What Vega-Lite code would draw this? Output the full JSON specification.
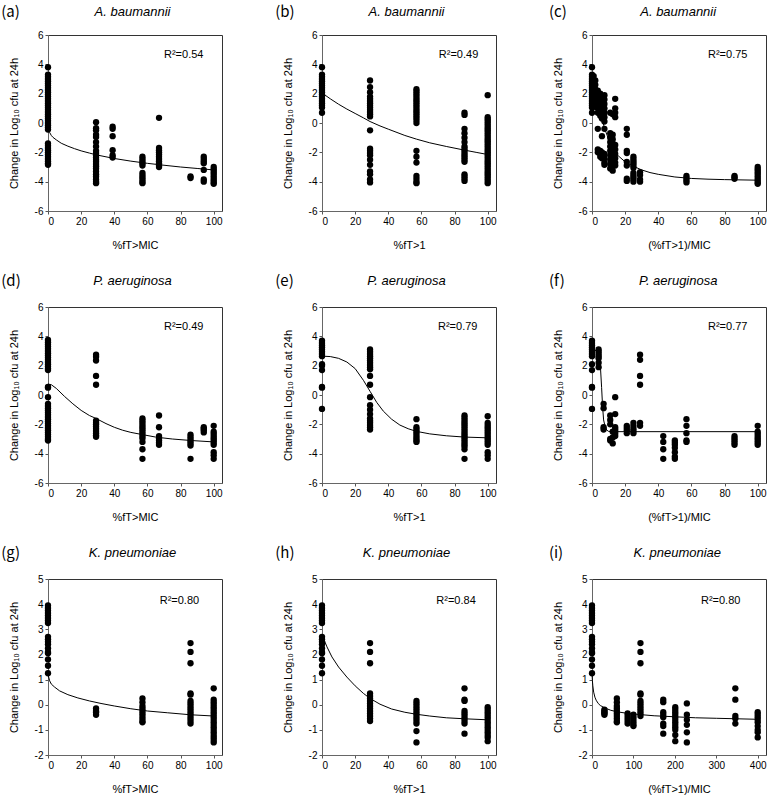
{
"$schema": "https://vega.github.io/schema/vega-lite/v6.json",
"padding": {"left": 0, "top": 4, "right": 2, "bottom": 0},
"background": "white",
"config": {
 "font": "Liberation Sans",
 "view": {"stroke": "#333", "strokeWidth": 1},
 "axis": {"domainColor": "#666", "tickColor": "#555", "tickSize": 3, "labelFontSize": 10, "labelColor": "#000", "titleFontSize": 11, "titleFontWeight": "normal", "titleColor": "#000", "grid": false, "labelPadding": 2, "labelFont": "Liberation Sans", "titleFont": "Liberation Sans"},
 "axisX": {"titlePadding": 13.5},
 "axisY": {"titlePadding": 15},
 "concat": {"spacing": 51}
},
"datasets": {
"pts": [
{"p":"a","x":0,"y":3.8},{"p":"a","x":0,"y":3.3},{"p":"a","x":0,"y":3.15},{"p":"a","x":0,"y":3.0},{"p":"a","x":0,"y":2.85},{"p":"a","x":0,"y":2.7},{"p":"a","x":0,"y":2.55},{"p":"a","x":0,"y":2.4},{"p":"a","x":0,"y":2.25},{"p":"a","x":0,"y":2.1},{"p":"a","x":0,"y":1.95},{"p":"a","x":0,"y":1.8},{"p":"a","x":0,"y":1.65},{"p":"a","x":0,"y":1.5},{"p":"a","x":0,"y":1.35},{"p":"a","x":0,"y":1.2},{"p":"a","x":0,"y":1.05},{"p":"a","x":0,"y":0.9},{"p":"a","x":0,"y":0.75},{"p":"a","x":0,"y":0.6},{"p":"a","x":0,"y":0.45},{"p":"a","x":0,"y":0.3},{"p":"a","x":0,"y":0.15},{"p":"a","x":0,"y":0},{"p":"a","x":0,"y":-0.15},{"p":"a","x":0,"y":-0.3},{"p":"a","x":0,"y":-0.45},{"p":"a","x":0,"y":-1.4},{"p":"a","x":0,"y":-1.55},{"p":"a","x":0,"y":-1.7},{"p":"a","x":0,"y":-1.85},{"p":"a","x":0,"y":-2.0},{"p":"a","x":0,"y":-2.15},{"p":"a","x":0,"y":-2.3},{"p":"a","x":0,"y":-2.45},{"p":"a","x":0,"y":-2.6},{"p":"a","x":0,"y":-2.75},{"p":"a","x":0,"y":-2.85},
{"p":"a","x":29,"y":0.05},{"p":"a","x":29,"y":-0.35},{"p":"a","x":29,"y":-0.5},{"p":"a","x":29,"y":-0.8},{"p":"a","x":29,"y":-0.95},{"p":"a","x":29,"y":-1.3},{"p":"a","x":29,"y":-1.6},{"p":"a","x":29,"y":-1.9},{"p":"a","x":29,"y":-2.05},{"p":"a","x":29,"y":-2.2},{"p":"a","x":29,"y":-2.35},{"p":"a","x":29,"y":-2.5},{"p":"a","x":29,"y":-2.65},{"p":"a","x":29,"y":-2.8},{"p":"a","x":29,"y":-2.95},{"p":"a","x":29,"y":-3.1},{"p":"a","x":29,"y":-3.3},{"p":"a","x":29,"y":-3.5},{"p":"a","x":29,"y":-3.65},{"p":"a","x":29,"y":-3.85},{"p":"a","x":29,"y":-4.0},{"p":"a","x":29,"y":-4.1},
{"p":"a","x":39,"y":-0.25},{"p":"a","x":39,"y":-0.4},{"p":"a","x":39,"y":-0.9},{"p":"a","x":39,"y":-1.85},{"p":"a","x":39,"y":-2.2},{"p":"a","x":39,"y":-2.35},
{"p":"a","x":57,"y":-2.3},{"p":"a","x":57,"y":-2.45},{"p":"a","x":57,"y":-2.6},{"p":"a","x":57,"y":-2.75},{"p":"a","x":57,"y":-2.9},{"p":"a","x":57,"y":-3.4},{"p":"a","x":57,"y":-3.55},{"p":"a","x":57,"y":-3.7},{"p":"a","x":57,"y":-3.85},{"p":"a","x":57,"y":-4.0},{"p":"a","x":57,"y":-4.1},
{"p":"a","x":67,"y":0.35},{"p":"a","x":67,"y":-1.7},{"p":"a","x":67,"y":-1.85},{"p":"a","x":67,"y":-2.0},{"p":"a","x":67,"y":-2.15},{"p":"a","x":67,"y":-2.3},{"p":"a","x":67,"y":-2.45},{"p":"a","x":67,"y":-2.6},{"p":"a","x":67,"y":-2.75},{"p":"a","x":67,"y":-2.9},{"p":"a","x":67,"y":-3.0},
{"p":"a","x":86,"y":-3.65},{"p":"a","x":86,"y":-3.75},
{"p":"a","x":94,"y":-2.3},{"p":"a","x":94,"y":-2.45},{"p":"a","x":94,"y":-2.6},{"p":"a","x":94,"y":-2.75},{"p":"a","x":94,"y":-3.2},{"p":"a","x":94,"y":-3.85},{"p":"a","x":94,"y":-4.0},
{"p":"a","x":100,"y":-3.0},{"p":"a","x":100,"y":-3.15},{"p":"a","x":100,"y":-3.3},{"p":"a","x":100,"y":-3.45},{"p":"a","x":100,"y":-3.6},{"p":"a","x":100,"y":-3.75},{"p":"a","x":100,"y":-3.9},{"p":"a","x":100,"y":-4.05},{"p":"a","x":100,"y":-4.15},

{"p":"b","x":0,"y":3.8},{"p":"b","x":0,"y":3.3},{"p":"b","x":0,"y":3.15},{"p":"b","x":0,"y":3.0},{"p":"b","x":0,"y":2.85},{"p":"b","x":0,"y":2.7},{"p":"b","x":0,"y":2.55},{"p":"b","x":0,"y":2.4},{"p":"b","x":0,"y":2.25},{"p":"b","x":0,"y":2.1},{"p":"b","x":0,"y":1.95},{"p":"b","x":0,"y":1.8},{"p":"b","x":0,"y":1.65},{"p":"b","x":0,"y":1.5},{"p":"b","x":0,"y":1.35},{"p":"b","x":0,"y":1.2},{"p":"b","x":0,"y":1.05},{"p":"b","x":0,"y":0.7},
{"p":"b","x":29,"y":2.9},{"p":"b","x":29,"y":2.45},{"p":"b","x":29,"y":2.1},{"p":"b","x":29,"y":1.8},{"p":"b","x":29,"y":1.65},{"p":"b","x":29,"y":1.5},{"p":"b","x":29,"y":1.35},{"p":"b","x":29,"y":1.2},{"p":"b","x":29,"y":1.05},{"p":"b","x":29,"y":0.9},{"p":"b","x":29,"y":0.75},{"p":"b","x":29,"y":0.6},{"p":"b","x":29,"y":0.45},{"p":"b","x":29,"y":-0.5},{"p":"b","x":29,"y":-1.75},{"p":"b","x":29,"y":-1.9},{"p":"b","x":29,"y":-2.05},{"p":"b","x":29,"y":-2.2},{"p":"b","x":29,"y":-2.5},{"p":"b","x":29,"y":-2.85},{"p":"b","x":29,"y":-3.3},{"p":"b","x":29,"y":-3.5},{"p":"b","x":29,"y":-3.85},{"p":"b","x":29,"y":-4.05},
{"p":"b","x":57,"y":2.3},{"p":"b","x":57,"y":2.15},{"p":"b","x":57,"y":2.0},{"p":"b","x":57,"y":1.85},{"p":"b","x":57,"y":1.7},{"p":"b","x":57,"y":1.55},{"p":"b","x":57,"y":1.4},{"p":"b","x":57,"y":1.25},{"p":"b","x":57,"y":1.1},{"p":"b","x":57,"y":0.95},{"p":"b","x":57,"y":0.8},{"p":"b","x":57,"y":0.65},{"p":"b","x":57,"y":0.5},{"p":"b","x":57,"y":0.35},{"p":"b","x":57,"y":0.2},{"p":"b","x":57,"y":0.0},{"p":"b","x":57,"y":-1.9},{"p":"b","x":57,"y":-2.3},{"p":"b","x":57,"y":-2.7},{"p":"b","x":57,"y":-3.6},{"p":"b","x":57,"y":-3.8},{"p":"b","x":57,"y":-4.0},{"p":"b","x":57,"y":-4.1},
{"p":"b","x":86,"y":0.7},{"p":"b","x":86,"y":0.55},{"p":"b","x":86,"y":-0.4},{"p":"b","x":86,"y":-0.7},{"p":"b","x":86,"y":-1.0},{"p":"b","x":86,"y":-1.3},{"p":"b","x":86,"y":-1.6},{"p":"b","x":86,"y":-1.75},{"p":"b","x":86,"y":-1.9},{"p":"b","x":86,"y":-2.05},{"p":"b","x":86,"y":-2.2},{"p":"b","x":86,"y":-2.35},{"p":"b","x":86,"y":-2.5},{"p":"b","x":86,"y":-2.65},{"p":"b","x":86,"y":-3.5},{"p":"b","x":86,"y":-3.65},{"p":"b","x":86,"y":-3.8},{"p":"b","x":86,"y":-3.95},
{"p":"b","x":100,"y":1.9},{"p":"b","x":100,"y":0.4},{"p":"b","x":100,"y":0.25},{"p":"b","x":100,"y":0.1},{"p":"b","x":100,"y":-0.05},{"p":"b","x":100,"y":-0.2},{"p":"b","x":100,"y":-0.35},{"p":"b","x":100,"y":-0.5},{"p":"b","x":100,"y":-0.65},{"p":"b","x":100,"y":-0.8},{"p":"b","x":100,"y":-0.95},{"p":"b","x":100,"y":-1.1},{"p":"b","x":100,"y":-1.25},{"p":"b","x":100,"y":-1.4},{"p":"b","x":100,"y":-1.55},{"p":"b","x":100,"y":-1.7},{"p":"b","x":100,"y":-1.85},{"p":"b","x":100,"y":-2.0},{"p":"b","x":100,"y":-2.15},{"p":"b","x":100,"y":-2.3},{"p":"b","x":100,"y":-2.45},{"p":"b","x":100,"y":-2.6},{"p":"b","x":100,"y":-2.75},{"p":"b","x":100,"y":-2.9},{"p":"b","x":100,"y":-3.05},{"p":"b","x":100,"y":-3.2},{"p":"b","x":100,"y":-3.35},{"p":"b","x":100,"y":-3.5},{"p":"b","x":100,"y":-3.65},{"p":"b","x":100,"y":-3.8},{"p":"b","x":100,"y":-3.95},{"p":"b","x":100,"y":-4.1},

{"p":"c","x":0,"y":3.8},{"p":"c","x":0,"y":3.3},{"p":"c","x":0,"y":3.15},{"p":"c","x":0,"y":3.0},{"p":"c","x":0,"y":2.85},{"p":"c","x":0,"y":2.7},{"p":"c","x":0,"y":2.55},{"p":"c","x":0,"y":2.4},{"p":"c","x":0,"y":2.25},{"p":"c","x":0,"y":2.1},{"p":"c","x":0,"y":1.95},{"p":"c","x":0,"y":1.8},{"p":"c","x":0,"y":1.65},{"p":"c","x":0,"y":1.5},{"p":"c","x":0,"y":1.35},{"p":"c","x":0,"y":1.2},{"p":"c","x":0,"y":1.05},{"p":"c","x":0,"y":0.7},
{"p":"c","x":1,"y":3.2},{"p":"c","x":1,"y":2.9},{"p":"c","x":1,"y":2.6},{"p":"c","x":1,"y":2.3},{"p":"c","x":1,"y":2.0},{"p":"c","x":1,"y":1.7},{"p":"c","x":1,"y":1.4},
{"p":"c","x":2,"y":2.9},{"p":"c","x":2,"y":2.6},{"p":"c","x":2,"y":2.3},{"p":"c","x":2,"y":2.0},{"p":"c","x":2,"y":1.7},{"p":"c","x":2,"y":1.4},{"p":"c","x":2,"y":1.1},
{"p":"c","x":3.5,"y":2.2},{"p":"c","x":3.5,"y":1.9},{"p":"c","x":3.5,"y":1.6},{"p":"c","x":3.5,"y":1.3},{"p":"c","x":3.5,"y":1.0},{"p":"c","x":3.5,"y":0.7},{"p":"c","x":3.5,"y":-0.4},{"p":"c","x":3.5,"y":-1.8},{"p":"c","x":3.5,"y":-2.0},
{"p":"c","x":5,"y":2.0},{"p":"c","x":5,"y":1.7},{"p":"c","x":5,"y":1.4},{"p":"c","x":5,"y":1.1},{"p":"c","x":5,"y":0.8},{"p":"c","x":5,"y":0.5},{"p":"c","x":5,"y":-1.9},{"p":"c","x":5,"y":-2.1},{"p":"c","x":5,"y":-2.3},
{"p":"c","x":6,"y":1.6},{"p":"c","x":6,"y":1.2},{"p":"c","x":6,"y":0.6},{"p":"c","x":6,"y":0.3},{"p":"c","x":6,"y":-0.9},{"p":"c","x":6,"y":-2.0},{"p":"c","x":6,"y":-2.4},
{"p":"c","x":7.5,"y":1.9},{"p":"c","x":7.5,"y":1.6},{"p":"c","x":7.5,"y":1.3},{"p":"c","x":7.5,"y":1.0},{"p":"c","x":7.5,"y":0.7},{"p":"c","x":7.5,"y":0.4},{"p":"c","x":7.5,"y":0.1},{"p":"c","x":7.5,"y":-0.4},{"p":"c","x":7.5,"y":-2.1},{"p":"c","x":7.5,"y":-2.4},{"p":"c","x":7.5,"y":-2.7},{"p":"c","x":7.5,"y":-2.85},
{"p":"c","x":11,"y":0.7},{"p":"c","x":11,"y":-0.7},{"p":"c","x":11,"y":-1.0},{"p":"c","x":11,"y":-1.3},{"p":"c","x":11,"y":-1.6},{"p":"c","x":11,"y":-1.9},{"p":"c","x":11,"y":-2.2},{"p":"c","x":11,"y":-2.5},{"p":"c","x":11,"y":-2.8},{"p":"c","x":11,"y":-3.1},
{"p":"c","x":12.5,"y":0.6},{"p":"c","x":12.5,"y":-0.8},{"p":"c","x":12.5,"y":-1.1},{"p":"c","x":12.5,"y":-1.4},{"p":"c","x":12.5,"y":-1.7},{"p":"c","x":12.5,"y":-2.0},{"p":"c","x":12.5,"y":-2.3},{"p":"c","x":12.5,"y":-2.6},{"p":"c","x":12.5,"y":-2.9},{"p":"c","x":12.5,"y":-3.25},
{"p":"c","x":14,"y":1.65},{"p":"c","x":14,"y":1.0},{"p":"c","x":14,"y":0.7},{"p":"c","x":14,"y":0.4},{"p":"c","x":14,"y":-1.5},{"p":"c","x":14,"y":-1.8},{"p":"c","x":14,"y":-2.1},{"p":"c","x":14,"y":-2.4},{"p":"c","x":14,"y":-2.7},{"p":"c","x":14,"y":-2.9},
{"p":"c","x":21,"y":-0.4},{"p":"c","x":21,"y":-0.8},{"p":"c","x":21,"y":-1.9},{"p":"c","x":21,"y":-2.05},{"p":"c","x":21,"y":-2.65},{"p":"c","x":21,"y":-2.9},{"p":"c","x":21,"y":-3.8},{"p":"c","x":21,"y":-3.95},
{"p":"c","x":25,"y":-2.3},{"p":"c","x":25,"y":-2.45},{"p":"c","x":25,"y":-2.6},{"p":"c","x":25,"y":-2.75},{"p":"c","x":25,"y":-2.9},{"p":"c","x":25,"y":-3.05},{"p":"c","x":25,"y":-3.4},{"p":"c","x":25,"y":-3.55},{"p":"c","x":25,"y":-3.7},{"p":"c","x":25,"y":-3.85},{"p":"c","x":25,"y":-4.0},
{"p":"c","x":29,"y":-3.35},{"p":"c","x":29,"y":-3.55},{"p":"c","x":29,"y":-3.85},{"p":"c","x":29,"y":-4.0},
{"p":"c","x":57,"y":-3.6},{"p":"c","x":57,"y":-3.75},{"p":"c","x":57,"y":-3.9},{"p":"c","x":57,"y":-4.05},
{"p":"c","x":86,"y":-3.6},{"p":"c","x":86,"y":-3.7},{"p":"c","x":86,"y":-3.8},
{"p":"c","x":100,"y":-3.0},{"p":"c","x":100,"y":-3.15},{"p":"c","x":100,"y":-3.3},{"p":"c","x":100,"y":-3.45},{"p":"c","x":100,"y":-3.6},{"p":"c","x":100,"y":-3.75},{"p":"c","x":100,"y":-3.9},{"p":"c","x":100,"y":-4.05},{"p":"c","x":100,"y":-4.15},

{"p":"d","x":0,"y":3.75},{"p":"d","x":0,"y":3.6},{"p":"d","x":0,"y":3.45},{"p":"d","x":0,"y":3.3},{"p":"d","x":0,"y":3.15},{"p":"d","x":0,"y":3.0},{"p":"d","x":0,"y":2.85},{"p":"d","x":0,"y":2.7},{"p":"d","x":0,"y":2.55},{"p":"d","x":0,"y":2.4},{"p":"d","x":0,"y":2.25},{"p":"d","x":0,"y":2.1},{"p":"d","x":0,"y":1.95},{"p":"d","x":0,"y":1.8},{"p":"d","x":0,"y":1.7},{"p":"d","x":0,"y":0.55},{"p":"d","x":0,"y":0.5},{"p":"d","x":0,"y":-0.15},{"p":"d","x":0,"y":-0.6},{"p":"d","x":0,"y":-0.75},{"p":"d","x":0,"y":-0.9},{"p":"d","x":0,"y":-1.05},{"p":"d","x":0,"y":-1.2},{"p":"d","x":0,"y":-1.35},{"p":"d","x":0,"y":-1.5},{"p":"d","x":0,"y":-1.65},{"p":"d","x":0,"y":-1.8},{"p":"d","x":0,"y":-1.95},{"p":"d","x":0,"y":-2.1},{"p":"d","x":0,"y":-2.25},{"p":"d","x":0,"y":-2.4},{"p":"d","x":0,"y":-2.55},{"p":"d","x":0,"y":-2.7},{"p":"d","x":0,"y":-2.85},{"p":"d","x":0,"y":-3.0},{"p":"d","x":0,"y":-3.1},
{"p":"d","x":29,"y":2.75},{"p":"d","x":29,"y":2.6},{"p":"d","x":29,"y":2.35},{"p":"d","x":29,"y":1.3},{"p":"d","x":29,"y":0.7},{"p":"d","x":29,"y":-1.75},{"p":"d","x":29,"y":-1.9},{"p":"d","x":29,"y":-2.0},{"p":"d","x":29,"y":-2.15},{"p":"d","x":29,"y":-2.3},{"p":"d","x":29,"y":-2.45},{"p":"d","x":29,"y":-2.6},{"p":"d","x":29,"y":-2.75},{"p":"d","x":29,"y":-2.85},
{"p":"d","x":57,"y":-1.6},{"p":"d","x":57,"y":-1.75},{"p":"d","x":57,"y":-1.9},{"p":"d","x":57,"y":-2.05},{"p":"d","x":57,"y":-2.2},{"p":"d","x":57,"y":-2.35},{"p":"d","x":57,"y":-2.5},{"p":"d","x":57,"y":-2.65},{"p":"d","x":57,"y":-2.8},{"p":"d","x":57,"y":-2.95},{"p":"d","x":57,"y":-3.2},{"p":"d","x":57,"y":-3.7},{"p":"d","x":57,"y":-4.35},
{"p":"d","x":67,"y":-1.4},{"p":"d","x":67,"y":-2.2},{"p":"d","x":67,"y":-2.8},{"p":"d","x":67,"y":-2.95},{"p":"d","x":67,"y":-3.1},{"p":"d","x":67,"y":-3.25},{"p":"d","x":67,"y":-3.4},
{"p":"d","x":86,"y":-2.7},{"p":"d","x":86,"y":-2.85},{"p":"d","x":86,"y":-3.0},{"p":"d","x":86,"y":-3.15},{"p":"d","x":86,"y":-3.3},{"p":"d","x":86,"y":-3.45},{"p":"d","x":86,"y":-4.35},
{"p":"d","x":94,"y":-2.2},{"p":"d","x":94,"y":-2.3},{"p":"d","x":94,"y":-2.4},{"p":"d","x":94,"y":-2.55},
{"p":"d","x":100,"y":-2.1},{"p":"d","x":100,"y":-2.5},{"p":"d","x":100,"y":-2.65},{"p":"d","x":100,"y":-2.8},{"p":"d","x":100,"y":-2.95},{"p":"d","x":100,"y":-3.1},{"p":"d","x":100,"y":-3.25},{"p":"d","x":100,"y":-3.4},{"p":"d","x":100,"y":-3.9},{"p":"d","x":100,"y":-4.1},{"p":"d","x":100,"y":-4.35},

{"p":"e","x":0,"y":3.7},{"p":"e","x":0,"y":3.55},{"p":"e","x":0,"y":3.4},{"p":"e","x":0,"y":3.25},{"p":"e","x":0,"y":3.1},{"p":"e","x":0,"y":2.95},{"p":"e","x":0,"y":2.8},{"p":"e","x":0,"y":2.65},{"p":"e","x":0,"y":2.1},{"p":"e","x":0,"y":2.0},{"p":"e","x":0,"y":1.7},{"p":"e","x":0,"y":0.55},{"p":"e","x":0,"y":0.5},{"p":"e","x":0,"y":-0.95},
{"p":"e","x":29,"y":3.1},{"p":"e","x":29,"y":2.95},{"p":"e","x":29,"y":2.8},{"p":"e","x":29,"y":2.65},{"p":"e","x":29,"y":2.5},{"p":"e","x":29,"y":2.35},{"p":"e","x":29,"y":2.2},{"p":"e","x":29,"y":2.05},{"p":"e","x":29,"y":1.9},{"p":"e","x":29,"y":1.75},{"p":"e","x":29,"y":1.3},{"p":"e","x":29,"y":0.7},{"p":"e","x":29,"y":-0.15},{"p":"e","x":29,"y":-0.7},{"p":"e","x":29,"y":-1.0},{"p":"e","x":29,"y":-1.3},{"p":"e","x":29,"y":-1.6},{"p":"e","x":29,"y":-1.75},{"p":"e","x":29,"y":-1.9},{"p":"e","x":29,"y":-2.05},{"p":"e","x":29,"y":-2.2},{"p":"e","x":29,"y":-2.35},
{"p":"e","x":57,"y":-1.65},{"p":"e","x":57,"y":-2.2},{"p":"e","x":57,"y":-2.35},{"p":"e","x":57,"y":-2.5},{"p":"e","x":57,"y":-2.65},{"p":"e","x":57,"y":-2.8},{"p":"e","x":57,"y":-2.95},{"p":"e","x":57,"y":-3.1},{"p":"e","x":57,"y":-3.2},
{"p":"e","x":86,"y":-1.4},{"p":"e","x":86,"y":-1.55},{"p":"e","x":86,"y":-1.7},{"p":"e","x":86,"y":-1.85},{"p":"e","x":86,"y":-2.0},{"p":"e","x":86,"y":-2.15},{"p":"e","x":86,"y":-2.3},{"p":"e","x":86,"y":-2.45},{"p":"e","x":86,"y":-2.6},{"p":"e","x":86,"y":-2.75},{"p":"e","x":86,"y":-2.9},{"p":"e","x":86,"y":-3.05},{"p":"e","x":86,"y":-3.2},{"p":"e","x":86,"y":-3.35},{"p":"e","x":86,"y":-3.5},{"p":"e","x":86,"y":-3.7},{"p":"e","x":86,"y":-4.35},
{"p":"e","x":100,"y":-1.45},{"p":"e","x":100,"y":-1.9},{"p":"e","x":100,"y":-2.05},{"p":"e","x":100,"y":-2.2},{"p":"e","x":100,"y":-2.35},{"p":"e","x":100,"y":-2.5},{"p":"e","x":100,"y":-2.65},{"p":"e","x":100,"y":-2.8},{"p":"e","x":100,"y":-2.95},{"p":"e","x":100,"y":-3.1},{"p":"e","x":100,"y":-3.25},{"p":"e","x":100,"y":-3.4},{"p":"e","x":100,"y":-3.9},{"p":"e","x":100,"y":-4.1},{"p":"e","x":100,"y":-4.35},

{"p":"f","x":0,"y":3.7},{"p":"f","x":0,"y":3.55},{"p":"f","x":0,"y":3.4},{"p":"f","x":0,"y":3.25},{"p":"f","x":0,"y":3.1},{"p":"f","x":0,"y":2.95},{"p":"f","x":0,"y":2.8},{"p":"f","x":0,"y":2.65},{"p":"f","x":0,"y":2.1},{"p":"f","x":0,"y":1.7},{"p":"f","x":0,"y":0.55},{"p":"f","x":0,"y":0.5},{"p":"f","x":0,"y":-0.95},
{"p":"f","x":4,"y":3.1},{"p":"f","x":4,"y":2.95},{"p":"f","x":4,"y":2.8},{"p":"f","x":4,"y":2.65},{"p":"f","x":4,"y":2.5},{"p":"f","x":4,"y":2.2},{"p":"f","x":4,"y":1.9},
{"p":"f","x":7,"y":-0.6},{"p":"f","x":7,"y":-0.9},{"p":"f","x":7,"y":-2.2},{"p":"f","x":7,"y":-2.35},
{"p":"f","x":11,"y":-1.4},{"p":"f","x":11,"y":-1.7},{"p":"f","x":11,"y":-2.0},{"p":"f","x":11,"y":-3.0},{"p":"f","x":11,"y":-3.1},
{"p":"f","x":12.5,"y":-2.5},{"p":"f","x":12.5,"y":-2.9},{"p":"f","x":12.5,"y":-3.3},
{"p":"f","x":14,"y":-0.15},{"p":"f","x":14,"y":-1.3},{"p":"f","x":14,"y":-2.2},{"p":"f","x":14,"y":-2.35},{"p":"f","x":14,"y":-2.5},{"p":"f","x":14,"y":-2.65},{"p":"f","x":14,"y":-2.8},
{"p":"f","x":21,"y":-2.1},{"p":"f","x":21,"y":-2.25},{"p":"f","x":21,"y":-2.4},{"p":"f","x":21,"y":-2.6},
{"p":"f","x":25,"y":-1.9},{"p":"f","x":25,"y":-2.1},{"p":"f","x":25,"y":-2.3},{"p":"f","x":25,"y":-2.45},{"p":"f","x":25,"y":-2.6},
{"p":"f","x":29,"y":2.75},{"p":"f","x":29,"y":2.4},{"p":"f","x":29,"y":1.3},{"p":"f","x":29,"y":0.7},{"p":"f","x":29,"y":-1.9},{"p":"f","x":29,"y":-2.1},
{"p":"f","x":43,"y":-2.8},{"p":"f","x":43,"y":-3.2},{"p":"f","x":43,"y":-3.7},{"p":"f","x":43,"y":-4.35},
{"p":"f","x":50,"y":-3.1},{"p":"f","x":50,"y":-3.25},{"p":"f","x":50,"y":-3.4},{"p":"f","x":50,"y":-3.6},{"p":"f","x":50,"y":-3.9},{"p":"f","x":50,"y":-4.2},{"p":"f","x":50,"y":-4.35},
{"p":"f","x":57,"y":-1.65},{"p":"f","x":57,"y":-2.1},{"p":"f","x":57,"y":-2.6},{"p":"f","x":57,"y":-3.1},{"p":"f","x":57,"y":-3.2},
{"p":"f","x":86,"y":-2.8},{"p":"f","x":86,"y":-2.95},{"p":"f","x":86,"y":-3.1},{"p":"f","x":86,"y":-3.25},{"p":"f","x":86,"y":-3.4},
{"p":"f","x":100,"y":-2.1},{"p":"f","x":100,"y":-2.5},{"p":"f","x":100,"y":-2.65},{"p":"f","x":100,"y":-2.8},{"p":"f","x":100,"y":-2.95},{"p":"f","x":100,"y":-3.1},{"p":"f","x":100,"y":-3.25},{"p":"f","x":100,"y":-3.4},

{"p":"g","x":0,"y":3.95},{"p":"g","x":0,"y":3.85},{"p":"g","x":0,"y":3.75},{"p":"g","x":0,"y":3.65},{"p":"g","x":0,"y":3.55},{"p":"g","x":0,"y":3.45},{"p":"g","x":0,"y":3.35},{"p":"g","x":0,"y":3.25},{"p":"g","x":0,"y":2.7},{"p":"g","x":0,"y":2.6},{"p":"g","x":0,"y":2.5},{"p":"g","x":0,"y":2.4},{"p":"g","x":0,"y":2.25},{"p":"g","x":0,"y":2.1},{"p":"g","x":0,"y":2.05},{"p":"g","x":0,"y":1.8},{"p":"g","x":0,"y":1.55},{"p":"g","x":0,"y":1.25},
{"p":"g","x":29,"y":-0.15},{"p":"g","x":29,"y":-0.25},{"p":"g","x":29,"y":-0.3},{"p":"g","x":29,"y":-0.4},
{"p":"g","x":57,"y":0.25},{"p":"g","x":57,"y":0.1},{"p":"g","x":57,"y":-0.05},{"p":"g","x":57,"y":-0.15},{"p":"g","x":57,"y":-0.25},{"p":"g","x":57,"y":-0.35},{"p":"g","x":57,"y":-0.45},{"p":"g","x":57,"y":-0.55},{"p":"g","x":57,"y":-0.65},{"p":"g","x":57,"y":-0.7},
{"p":"g","x":86,"y":2.45},{"p":"g","x":86,"y":2.1},{"p":"g","x":86,"y":1.65},{"p":"g","x":86,"y":0.45},{"p":"g","x":86,"y":0.4},{"p":"g","x":86,"y":0.15},{"p":"g","x":86,"y":0.05},{"p":"g","x":86,"y":-0.05},{"p":"g","x":86,"y":-0.15},{"p":"g","x":86,"y":-0.25},{"p":"g","x":86,"y":-0.35},{"p":"g","x":86,"y":-0.45},{"p":"g","x":86,"y":-0.55},{"p":"g","x":86,"y":-0.65},{"p":"g","x":86,"y":-0.75},
{"p":"g","x":100,"y":0.65},{"p":"g","x":100,"y":0.2},{"p":"g","x":100,"y":0.1},{"p":"g","x":100,"y":0.0},{"p":"g","x":100,"y":-0.1},{"p":"g","x":100,"y":-0.2},{"p":"g","x":100,"y":-0.3},{"p":"g","x":100,"y":-0.4},{"p":"g","x":100,"y":-0.5},{"p":"g","x":100,"y":-0.6},{"p":"g","x":100,"y":-0.7},{"p":"g","x":100,"y":-0.8},{"p":"g","x":100,"y":-0.9},{"p":"g","x":100,"y":-1.0},{"p":"g","x":100,"y":-1.1},{"p":"g","x":100,"y":-1.2},{"p":"g","x":100,"y":-1.3},{"p":"g","x":100,"y":-1.4},{"p":"g","x":100,"y":-1.5},

{"p":"h","x":0,"y":3.95},{"p":"h","x":0,"y":3.85},{"p":"h","x":0,"y":3.75},{"p":"h","x":0,"y":3.65},{"p":"h","x":0,"y":3.55},{"p":"h","x":0,"y":3.45},{"p":"h","x":0,"y":3.35},{"p":"h","x":0,"y":3.25},{"p":"h","x":0,"y":2.7},{"p":"h","x":0,"y":2.6},{"p":"h","x":0,"y":2.5},{"p":"h","x":0,"y":2.4},{"p":"h","x":0,"y":2.25},{"p":"h","x":0,"y":2.1},{"p":"h","x":0,"y":2.05},{"p":"h","x":0,"y":1.8},{"p":"h","x":0,"y":1.55},{"p":"h","x":0,"y":1.25},
{"p":"h","x":29,"y":2.45},{"p":"h","x":29,"y":2.1},{"p":"h","x":29,"y":1.65},{"p":"h","x":29,"y":0.45},{"p":"h","x":29,"y":0.35},{"p":"h","x":29,"y":0.25},{"p":"h","x":29,"y":0.15},{"p":"h","x":29,"y":0.05},{"p":"h","x":29,"y":-0.05},{"p":"h","x":29,"y":-0.15},{"p":"h","x":29,"y":-0.25},{"p":"h","x":29,"y":-0.35},{"p":"h","x":29,"y":-0.45},{"p":"h","x":29,"y":-0.55},{"p":"h","x":29,"y":-0.65},
{"p":"h","x":57,"y":0.15},{"p":"h","x":57,"y":0.05},{"p":"h","x":57,"y":-0.05},{"p":"h","x":57,"y":-0.15},{"p":"h","x":57,"y":-0.25},{"p":"h","x":57,"y":-0.35},{"p":"h","x":57,"y":-0.45},{"p":"h","x":57,"y":-0.55},{"p":"h","x":57,"y":-0.65},{"p":"h","x":57,"y":-0.75},{"p":"h","x":57,"y":-1.05},{"p":"h","x":57,"y":-1.5},
{"p":"h","x":86,"y":0.65},{"p":"h","x":86,"y":0.2},{"p":"h","x":86,"y":0.15},{"p":"h","x":86,"y":-0.25},{"p":"h","x":86,"y":-0.35},{"p":"h","x":86,"y":-0.45},{"p":"h","x":86,"y":-0.55},{"p":"h","x":86,"y":-0.65},{"p":"h","x":86,"y":-0.75},{"p":"h","x":86,"y":-1.15},
{"p":"h","x":100,"y":-0.1},{"p":"h","x":100,"y":-0.2},{"p":"h","x":100,"y":-0.3},{"p":"h","x":100,"y":-0.4},{"p":"h","x":100,"y":-0.5},{"p":"h","x":100,"y":-0.6},{"p":"h","x":100,"y":-0.7},{"p":"h","x":100,"y":-0.8},{"p":"h","x":100,"y":-0.9},{"p":"h","x":100,"y":-1.0},{"p":"h","x":100,"y":-1.1},{"p":"h","x":100,"y":-1.2},{"p":"h","x":100,"y":-1.3},{"p":"h","x":100,"y":-1.45},

{"p":"i","x":0,"y":3.95},{"p":"i","x":0,"y":3.85},{"p":"i","x":0,"y":3.75},{"p":"i","x":0,"y":3.65},{"p":"i","x":0,"y":3.55},{"p":"i","x":0,"y":3.45},{"p":"i","x":0,"y":3.35},{"p":"i","x":0,"y":3.25},{"p":"i","x":0,"y":2.7},{"p":"i","x":0,"y":2.6},{"p":"i","x":0,"y":2.5},{"p":"i","x":0,"y":2.4},{"p":"i","x":0,"y":2.25},{"p":"i","x":0,"y":2.1},{"p":"i","x":0,"y":2.05},{"p":"i","x":0,"y":1.8},{"p":"i","x":0,"y":1.55},{"p":"i","x":0,"y":1.25},
{"p":"i","x":30,"y":-0.2},{"p":"i","x":30,"y":-0.25},{"p":"i","x":30,"y":-0.3},{"p":"i","x":30,"y":-0.35},{"p":"i","x":30,"y":-0.4},
{"p":"i","x":60,"y":0.25},{"p":"i","x":60,"y":0.1},{"p":"i","x":60,"y":-0.05},{"p":"i","x":60,"y":-0.15},{"p":"i","x":60,"y":-0.25},{"p":"i","x":60,"y":-0.35},{"p":"i","x":60,"y":-0.45},{"p":"i","x":60,"y":-0.55},{"p":"i","x":60,"y":-0.65},{"p":"i","x":60,"y":-0.7},
{"p":"i","x":86,"y":-0.35},{"p":"i","x":86,"y":-0.45},{"p":"i","x":86,"y":-0.55},{"p":"i","x":86,"y":-0.65},{"p":"i","x":86,"y":-0.75},
{"p":"i","x":100,"y":-0.4},{"p":"i","x":100,"y":-0.5},{"p":"i","x":100,"y":-0.6},{"p":"i","x":100,"y":-0.7},{"p":"i","x":100,"y":-0.8},{"p":"i","x":100,"y":-0.85},
{"p":"i","x":117,"y":2.45},{"p":"i","x":117,"y":2.1},{"p":"i","x":117,"y":1.65},{"p":"i","x":117,"y":0.45},{"p":"i","x":117,"y":0.4},{"p":"i","x":117,"y":0.15},{"p":"i","x":117,"y":0.05},{"p":"i","x":117,"y":-0.05},{"p":"i","x":117,"y":-0.15},{"p":"i","x":117,"y":-0.25},{"p":"i","x":117,"y":-0.35},{"p":"i","x":117,"y":-0.45},
{"p":"i","x":172,"y":0.2},{"p":"i","x":172,"y":0.1},{"p":"i","x":172,"y":-0.3},{"p":"i","x":172,"y":-0.4},{"p":"i","x":172,"y":-0.5},{"p":"i","x":172,"y":-0.75},{"p":"i","x":172,"y":-0.85},{"p":"i","x":172,"y":-1.15},
{"p":"i","x":201,"y":-0.1},{"p":"i","x":201,"y":-0.2},{"p":"i","x":201,"y":-0.3},{"p":"i","x":201,"y":-0.4},{"p":"i","x":201,"y":-0.5},{"p":"i","x":201,"y":-0.6},{"p":"i","x":201,"y":-0.7},{"p":"i","x":201,"y":-0.8},{"p":"i","x":201,"y":-0.9},{"p":"i","x":201,"y":-1.0},{"p":"i","x":201,"y":-1.2},{"p":"i","x":201,"y":-1.45},
{"p":"i","x":229,"y":0.05},{"p":"i","x":229,"y":-0.4},{"p":"i","x":229,"y":-0.6},{"p":"i","x":229,"y":-0.8},{"p":"i","x":229,"y":-1.1},{"p":"i","x":229,"y":-1.5},
{"p":"i","x":346,"y":0.65},{"p":"i","x":346,"y":0.2},{"p":"i","x":346,"y":-0.45},{"p":"i","x":346,"y":-0.55},{"p":"i","x":346,"y":-0.75},
{"p":"i","x":400,"y":-0.3},{"p":"i","x":400,"y":-0.4},{"p":"i","x":400,"y":-0.5},{"p":"i","x":400,"y":-0.6},{"p":"i","x":400,"y":-0.7},{"p":"i","x":400,"y":-0.85},{"p":"i","x":400,"y":-1.0},{"p":"i","x":400,"y":-1.1},{"p":"i","x":400,"y":-1.3}
],
"fit": [
{"p":"a","x":0,"y":-0.3},{"p":"a","x":1,"y":-0.65},{"p":"a","x":2,"y":-0.85},{"p":"a","x":3,"y":-0.98},{"p":"a","x":5,"y":-1.15},{"p":"a","x":8,"y":-1.38},{"p":"a","x":12,"y":-1.58},{"p":"a","x":16,"y":-1.75},{"p":"a","x":20,"y":-1.9},{"p":"a","x":25,"y":-2.05},{"p":"a","x":29,"y":-2.17},{"p":"a","x":40,"y":-2.42},{"p":"a","x":50,"y":-2.6},{"p":"a","x":60,"y":-2.75},{"p":"a","x":70,"y":-2.88},{"p":"a","x":80,"y":-3.0},{"p":"a","x":90,"y":-3.1},{"p":"a","x":100,"y":-3.2},
{"p":"b","x":0,"y":2.05},{"p":"b","x":5,"y":1.65},{"p":"b","x":10,"y":1.28},{"p":"b","x":15,"y":0.95},{"p":"b","x":20,"y":0.65},{"p":"b","x":25,"y":0.35},{"p":"b","x":29,"y":0.1},{"p":"b","x":35,"y":-0.2},{"p":"b","x":40,"y":-0.42},{"p":"b","x":50,"y":-0.85},{"p":"b","x":57,"y":-1.1},{"p":"b","x":65,"y":-1.35},{"p":"b","x":75,"y":-1.6},{"p":"b","x":86,"y":-1.85},{"p":"b","x":93,"y":-2.0},{"p":"b","x":100,"y":-2.15},
{"p":"c","x":0,"y":2.6},{"p":"c","x":2,"y":2.0},{"p":"c","x":4,"y":1.1},{"p":"c","x":6,"y":0.25},{"p":"c","x":8,"y":-0.5},{"p":"c","x":10,"y":-1.1},{"p":"c","x":12,"y":-1.6},{"p":"c","x":15,"y":-2.15},{"p":"c","x":20,"y":-2.65},{"p":"c","x":25,"y":-2.95},{"p":"c","x":30,"y":-3.2},{"p":"c","x":35,"y":-3.38},{"p":"c","x":40,"y":-3.5},{"p":"c","x":50,"y":-3.68},{"p":"c","x":60,"y":-3.78},{"p":"c","x":70,"y":-3.83},{"p":"c","x":80,"y":-3.86},{"p":"c","x":100,"y":-3.9},
{"p":"d","x":0,"y":0.75},{"p":"d","x":2,"y":0.7},{"p":"d","x":5,"y":0.45},{"p":"d","x":10,"y":-0.1},{"p":"d","x":15,"y":-0.6},{"p":"d","x":20,"y":-1.05},{"p":"d","x":25,"y":-1.4},{"p":"d","x":29,"y":-1.6},{"p":"d","x":35,"y":-1.95},{"p":"d","x":40,"y":-2.2},{"p":"d","x":45,"y":-2.4},{"p":"d","x":50,"y":-2.55},{"p":"d","x":57,"y":-2.7},{"p":"d","x":65,"y":-2.87},{"p":"d","x":75,"y":-3.0},{"p":"d","x":86,"y":-3.1},{"p":"d","x":100,"y":-3.2},
{"p":"e","x":0,"y":2.65},{"p":"e","x":5,"y":2.62},{"p":"e","x":10,"y":2.5},{"p":"e","x":15,"y":2.25},{"p":"e","x":20,"y":1.8},{"p":"e","x":25,"y":1.0},{"p":"e","x":29,"y":0.25},{"p":"e","x":33,"y":-0.5},{"p":"e","x":37,"y":-1.1},{"p":"e","x":42,"y":-1.65},{"p":"e","x":47,"y":-2.05},{"p":"e","x":52,"y":-2.3},{"p":"e","x":57,"y":-2.48},{"p":"e","x":65,"y":-2.65},{"p":"e","x":75,"y":-2.78},{"p":"e","x":86,"y":-2.87},{"p":"e","x":100,"y":-2.92},
{"p":"f","x":0,"y":3.1},{"p":"f","x":3,"y":3.0},{"p":"f","x":4.5,"y":2.5},{"p":"f","x":5.2,"y":1.7},{"p":"f","x":5.8,"y":0.5},{"p":"f","x":6.4,"y":-0.8},{"p":"f","x":7,"y":-1.7},{"p":"f","x":8,"y":-2.2},{"p":"f","x":9,"y":-2.4},{"p":"f","x":10,"y":-2.48},{"p":"f","x":12,"y":-2.5},{"p":"f","x":100,"y":-2.5},
{"p":"g","x":0,"y":1.2},{"p":"g","x":1,"y":0.95},{"p":"g","x":2,"y":0.82},{"p":"g","x":4,"y":0.7},{"p":"g","x":7,"y":0.55},{"p":"g","x":12,"y":0.4},{"p":"g","x":18,"y":0.27},{"p":"g","x":25,"y":0.15},{"p":"g","x":32,"y":0.05},{"p":"g","x":40,"y":-0.05},{"p":"g","x":50,"y":-0.16},{"p":"g","x":60,"y":-0.25},{"p":"g","x":72,"y":-0.32},{"p":"g","x":86,"y":-0.4},{"p":"g","x":100,"y":-0.45},
{"p":"h","x":0,"y":2.78},{"p":"h","x":3,"y":2.3},{"p":"h","x":6,"y":1.9},{"p":"h","x":10,"y":1.5},{"p":"h","x":15,"y":1.1},{"p":"h","x":20,"y":0.75},{"p":"h","x":25,"y":0.45},{"p":"h","x":29,"y":0.25},{"p":"h","x":35,"y":0.02},{"p":"h","x":42,"y":-0.17},{"p":"h","x":50,"y":-0.3},{"p":"h","x":57,"y":-0.38},{"p":"h","x":65,"y":-0.45},{"p":"h","x":75,"y":-0.52},{"p":"h","x":86,"y":-0.56},{"p":"h","x":100,"y":-0.6},
{"p":"i","x":0,"y":1.25},{"p":"i","x":1,"y":0.95},{"p":"i","x":2,"y":0.75},{"p":"i","x":4,"y":0.5},{"p":"i","x":7,"y":0.3},{"p":"i","x":10,"y":0.18},{"p":"i","x":15,"y":0.05},{"p":"i","x":20,"y":-0.03},{"p":"i","x":30,"y":-0.12},{"p":"i","x":45,"y":-0.22},{"p":"i","x":60,"y":-0.28},{"p":"i","x":80,"y":-0.33},{"p":"i","x":100,"y":-0.37},{"p":"i","x":150,"y":-0.44},{"p":"i","x":200,"y":-0.48},{"p":"i","x":250,"y":-0.52},{"p":"i","x":300,"y":-0.54},{"p":"i","x":350,"y":-0.56},{"p":"i","x":400,"y":-0.58}
],
"lab": [
{"p":"a","kind":"r2","x":70,"y":4.65,"t":"R²=0.54"},{"p":"a","kind":"tag","x":-28.2,"y":7.6,"t":"(a)"},{"p":"a","kind":"sp","x":51,"y":7.6,"t":"A. baumannii"},
{"p":"b","kind":"r2","x":70.5,"y":4.65,"t":"R²=0.49"},{"p":"b","kind":"tag","x":-28.2,"y":7.6,"t":"(b)"},{"p":"b","kind":"sp","x":51,"y":7.6,"t":"A. baumannii"},
{"p":"c","kind":"r2","x":70,"y":4.65,"t":"R²=0.75"},{"p":"c","kind":"tag","x":-26,"y":7.6,"t":"(c)"},{"p":"c","kind":"sp","x":52,"y":7.6,"t":"A. baumannii"},
{"p":"d","kind":"r2","x":70,"y":4.66,"t":"R²=0.49"},{"p":"d","kind":"tag","x":-28.2,"y":7.8,"t":"(d)"},{"p":"d","kind":"sp","x":51,"y":7.8,"t":"P. aeruginosa"},
{"p":"e","kind":"r2","x":70,"y":4.66,"t":"R²=0.79"},{"p":"e","kind":"tag","x":-28.2,"y":7.8,"t":"(e)"},{"p":"e","kind":"sp","x":51,"y":7.8,"t":"P. aeruginosa"},
{"p":"f","kind":"r2","x":70,"y":4.66,"t":"R²=0.77"},{"p":"f","kind":"tag","x":-26,"y":7.8,"t":"(f)"},{"p":"f","kind":"sp","x":52,"y":7.8,"t":"P. aeruginosa"},
{"p":"g","kind":"r2","x":67.4,"y":4.13,"t":"R²=0.80"},{"p":"g","kind":"tag","x":-28.2,"y":6.05,"t":"(g)"},{"p":"g","kind":"sp","x":51,"y":6.05,"t":"K. pneumoniae"},
{"p":"h","kind":"r2","x":69,"y":4.13,"t":"R²=0.84"},{"p":"h","kind":"tag","x":-28.2,"y":6.05,"t":"(h)"},{"p":"h","kind":"sp","x":51,"y":6.05,"t":"K. pneumoniae"},
{"p":"i","kind":"r2","x":263,"y":4.13,"t":"R²=0.80"},{"p":"i","kind":"tag","x":-104,"y":6.05,"t":"(i)"},{"p":"i","kind":"sp","x":206,"y":6.05,"t":"K. pneumoniae"}
]
},
"vconcat": [
{"hconcat": [
{"width":174,"height":176,
 "encoding":{"x":{"field":"x","type":"quantitative","scale":{"domain":[0,105],"nice":false,"zero":false},"axis":{"title":"%fT>MIC","values":[0,20,40,60,80,100]}},"y":{"field":"y","type":"quantitative","scale":{"domain":[-6,6],"nice":false,"zero":false},"axis":{"title":"Change in Log₁₀ cfu at 24h","values":[-6,-4,-2,0,2,4,6],"labelExpr":"datum.value < 0 ? '-' + (-datum.value) : '' + datum.value"}}},
 "layer":[
  {"data":{"name":"pts"},"transform":[{"filter":"datum.p=='a'"}],"mark":{"type":"circle","size":40,"color":"black","opacity":1}},
  {"data":{"name":"fit"},"transform":[{"filter":"datum.p=='a'"}],"mark":{"type":"line","color":"black","strokeWidth":1}},
  {"data":{"name":"lab"},"transform":[{"filter":"datum.p=='a' && datum.kind=='r2'"}],"mark":{"type":"text","align":"left","baseline":"middle","fontSize":11,"color":"black"},"encoding":{"text":{"field":"t"}}},
  {"data":{"name":"lab"},"transform":[{"filter":"datum.p=='a' && datum.kind=='tag'"}],"mark":{"type":"text","align":"left","baseline":"middle","fontSize":15,"color":"black","font":"Noto Sans CJK KR"},"encoding":{"text":{"field":"t"}}},
  {"data":{"name":"lab"},"transform":[{"filter":"datum.p=='a' && datum.kind=='sp'"}],"mark":{"type":"text","align":"center","baseline":"middle","fontSize":13,"fontStyle":"italic","color":"black"},"encoding":{"text":{"field":"t"}}}
 ]},
{"width":174,"height":176,
 "encoding":{"x":{"field":"x","type":"quantitative","scale":{"domain":[0,105],"nice":false,"zero":false},"axis":{"title":"%fT>1","values":[0,20,40,60,80,100]}},"y":{"field":"y","type":"quantitative","scale":{"domain":[-6,6],"nice":false,"zero":false},"axis":{"title":"Change in Log₁₀ cfu at 24h","values":[-6,-4,-2,0,2,4,6],"labelExpr":"datum.value < 0 ? '-' + (-datum.value) : '' + datum.value"}}},
 "layer":[
  {"data":{"name":"pts"},"transform":[{"filter":"datum.p=='b'"}],"mark":{"type":"circle","size":40,"color":"black","opacity":1}},
  {"data":{"name":"fit"},"transform":[{"filter":"datum.p=='b'"}],"mark":{"type":"line","color":"black","strokeWidth":1}},
  {"data":{"name":"lab"},"transform":[{"filter":"datum.p=='b' && datum.kind=='r2'"}],"mark":{"type":"text","align":"left","baseline":"middle","fontSize":11,"color":"black"},"encoding":{"text":{"field":"t"}}},
  {"data":{"name":"lab"},"transform":[{"filter":"datum.p=='b' && datum.kind=='tag'"}],"mark":{"type":"text","align":"left","baseline":"middle","fontSize":15,"color":"black","font":"Noto Sans CJK KR"},"encoding":{"text":{"field":"t"}}},
  {"data":{"name":"lab"},"transform":[{"filter":"datum.p=='b' && datum.kind=='sp'"}],"mark":{"type":"text","align":"center","baseline":"middle","fontSize":13,"fontStyle":"italic","color":"black"},"encoding":{"text":{"field":"t"}}}
 ]},
{"width":174,"height":176,
 "encoding":{"x":{"field":"x","type":"quantitative","scale":{"domain":[0,105],"nice":false,"zero":false},"axis":{"title":"(%fT>1)/MIC","values":[0,20,40,60,80,100]}},"y":{"field":"y","type":"quantitative","scale":{"domain":[-6,6],"nice":false,"zero":false},"axis":{"title":"Change in Log₁₀ cfu at 24h","values":[-6,-4,-2,0,2,4,6],"labelExpr":"datum.value < 0 ? '-' + (-datum.value) : '' + datum.value"}}},
 "layer":[
  {"data":{"name":"pts"},"transform":[{"filter":"datum.p=='c'"}],"mark":{"type":"circle","size":40,"color":"black","opacity":1}},
  {"data":{"name":"fit"},"transform":[{"filter":"datum.p=='c'"}],"mark":{"type":"line","color":"black","strokeWidth":1}},
  {"data":{"name":"lab"},"transform":[{"filter":"datum.p=='c' && datum.kind=='r2'"}],"mark":{"type":"text","align":"left","baseline":"middle","fontSize":11,"color":"black"},"encoding":{"text":{"field":"t"}}},
  {"data":{"name":"lab"},"transform":[{"filter":"datum.p=='c' && datum.kind=='tag'"}],"mark":{"type":"text","align":"left","baseline":"middle","fontSize":15,"color":"black","font":"Noto Sans CJK KR"},"encoding":{"text":{"field":"t"}}},
  {"data":{"name":"lab"},"transform":[{"filter":"datum.p=='c' && datum.kind=='sp'"}],"mark":{"type":"text","align":"center","baseline":"middle","fontSize":13,"fontStyle":"italic","color":"black"},"encoding":{"text":{"field":"t"}}}
 ]}
]},
{"hconcat": [
{"width":174,"height":176,
 "encoding":{"x":{"field":"x","type":"quantitative","scale":{"domain":[0,105],"nice":false,"zero":false},"axis":{"title":"%fT>MIC","values":[0,20,40,60,80,100]}},"y":{"field":"y","type":"quantitative","scale":{"domain":[-6,6],"nice":false,"zero":false},"axis":{"title":"Change in Log₁₀ cfu at 24h","values":[-6,-4,-2,0,2,4,6],"labelExpr":"datum.value < 0 ? '-' + (-datum.value) : '' + datum.value"}}},
 "layer":[
  {"data":{"name":"pts"},"transform":[{"filter":"datum.p=='d'"}],"mark":{"type":"circle","size":40,"color":"black","opacity":1}},
  {"data":{"name":"fit"},"transform":[{"filter":"datum.p=='d'"}],"mark":{"type":"line","color":"black","strokeWidth":1}},
  {"data":{"name":"lab"},"transform":[{"filter":"datum.p=='d' && datum.kind=='r2'"}],"mark":{"type":"text","align":"left","baseline":"middle","fontSize":11,"color":"black"},"encoding":{"text":{"field":"t"}}},
  {"data":{"name":"lab"},"transform":[{"filter":"datum.p=='d' && datum.kind=='tag'"}],"mark":{"type":"text","align":"left","baseline":"middle","fontSize":15,"color":"black","font":"Noto Sans CJK KR"},"encoding":{"text":{"field":"t"}}},
  {"data":{"name":"lab"},"transform":[{"filter":"datum.p=='d' && datum.kind=='sp'"}],"mark":{"type":"text","align":"center","baseline":"middle","fontSize":13,"fontStyle":"italic","color":"black"},"encoding":{"text":{"field":"t"}}}
 ]},
{"width":174,"height":176,
 "encoding":{"x":{"field":"x","type":"quantitative","scale":{"domain":[0,105],"nice":false,"zero":false},"axis":{"title":"%fT>1","values":[0,20,40,60,80,100]}},"y":{"field":"y","type":"quantitative","scale":{"domain":[-6,6],"nice":false,"zero":false},"axis":{"title":"Change in Log₁₀ cfu at 24h","values":[-6,-4,-2,0,2,4,6],"labelExpr":"datum.value < 0 ? '-' + (-datum.value) : '' + datum.value"}}},
 "layer":[
  {"data":{"name":"pts"},"transform":[{"filter":"datum.p=='e'"}],"mark":{"type":"circle","size":40,"color":"black","opacity":1}},
  {"data":{"name":"fit"},"transform":[{"filter":"datum.p=='e'"}],"mark":{"type":"line","color":"black","strokeWidth":1}},
  {"data":{"name":"lab"},"transform":[{"filter":"datum.p=='e' && datum.kind=='r2'"}],"mark":{"type":"text","align":"left","baseline":"middle","fontSize":11,"color":"black"},"encoding":{"text":{"field":"t"}}},
  {"data":{"name":"lab"},"transform":[{"filter":"datum.p=='e' && datum.kind=='tag'"}],"mark":{"type":"text","align":"left","baseline":"middle","fontSize":15,"color":"black","font":"Noto Sans CJK KR"},"encoding":{"text":{"field":"t"}}},
  {"data":{"name":"lab"},"transform":[{"filter":"datum.p=='e' && datum.kind=='sp'"}],"mark":{"type":"text","align":"center","baseline":"middle","fontSize":13,"fontStyle":"italic","color":"black"},"encoding":{"text":{"field":"t"}}}
 ]},
{"width":174,"height":176,
 "encoding":{"x":{"field":"x","type":"quantitative","scale":{"domain":[0,105],"nice":false,"zero":false},"axis":{"title":"(%fT>1)/MIC","values":[0,20,40,60,80,100]}},"y":{"field":"y","type":"quantitative","scale":{"domain":[-6,6],"nice":false,"zero":false},"axis":{"title":"Change in Log₁₀ cfu at 24h","values":[-6,-4,-2,0,2,4,6],"labelExpr":"datum.value < 0 ? '-' + (-datum.value) : '' + datum.value"}}},
 "layer":[
  {"data":{"name":"pts"},"transform":[{"filter":"datum.p=='f'"}],"mark":{"type":"circle","size":40,"color":"black","opacity":1}},
  {"data":{"name":"fit"},"transform":[{"filter":"datum.p=='f'"}],"mark":{"type":"line","color":"black","strokeWidth":1}},
  {"data":{"name":"lab"},"transform":[{"filter":"datum.p=='f' && datum.kind=='r2'"}],"mark":{"type":"text","align":"left","baseline":"middle","fontSize":11,"color":"black"},"encoding":{"text":{"field":"t"}}},
  {"data":{"name":"lab"},"transform":[{"filter":"datum.p=='f' && datum.kind=='tag'"}],"mark":{"type":"text","align":"left","baseline":"middle","fontSize":15,"color":"black","font":"Noto Sans CJK KR"},"encoding":{"text":{"field":"t"}}},
  {"data":{"name":"lab"},"transform":[{"filter":"datum.p=='f' && datum.kind=='sp'"}],"mark":{"type":"text","align":"center","baseline":"middle","fontSize":13,"fontStyle":"italic","color":"black"},"encoding":{"text":{"field":"t"}}}
 ]}
]},
{"hconcat": [
{"width":174,"height":176,
 "encoding":{"x":{"field":"x","type":"quantitative","scale":{"domain":[0,105],"nice":false,"zero":false},"axis":{"title":"%fT>MIC","values":[0,20,40,60,80,100]}},"y":{"field":"y","type":"quantitative","scale":{"domain":[-2,5],"nice":false,"zero":false},"axis":{"title":"Change in Log₁₀ cfu at 24h","values":[-2,-1,0,1,2,3,4,5],"labelExpr":"datum.value < 0 ? '-' + (-datum.value) : '' + datum.value"}}},
 "layer":[
  {"data":{"name":"pts"},"transform":[{"filter":"datum.p=='g'"}],"mark":{"type":"circle","size":40,"color":"black","opacity":1}},
  {"data":{"name":"fit"},"transform":[{"filter":"datum.p=='g'"}],"mark":{"type":"line","color":"black","strokeWidth":1}},
  {"data":{"name":"lab"},"transform":[{"filter":"datum.p=='g' && datum.kind=='r2'"}],"mark":{"type":"text","align":"left","baseline":"middle","fontSize":11,"color":"black"},"encoding":{"text":{"field":"t"}}},
  {"data":{"name":"lab"},"transform":[{"filter":"datum.p=='g' && datum.kind=='tag'"}],"mark":{"type":"text","align":"left","baseline":"middle","fontSize":15,"color":"black","font":"Noto Sans CJK KR"},"encoding":{"text":{"field":"t"}}},
  {"data":{"name":"lab"},"transform":[{"filter":"datum.p=='g' && datum.kind=='sp'"}],"mark":{"type":"text","align":"center","baseline":"middle","fontSize":13,"fontStyle":"italic","color":"black"},"encoding":{"text":{"field":"t"}}}
 ]},
{"width":174,"height":176,
 "encoding":{"x":{"field":"x","type":"quantitative","scale":{"domain":[0,105],"nice":false,"zero":false},"axis":{"title":"%fT>1","values":[0,20,40,60,80,100]}},"y":{"field":"y","type":"quantitative","scale":{"domain":[-2,5],"nice":false,"zero":false},"axis":{"title":"Change in Log₁₀ cfu at 24h","values":[-2,-1,0,1,2,3,4,5],"labelExpr":"datum.value < 0 ? '-' + (-datum.value) : '' + datum.value"}}},
 "layer":[
  {"data":{"name":"pts"},"transform":[{"filter":"datum.p=='h'"}],"mark":{"type":"circle","size":40,"color":"black","opacity":1}},
  {"data":{"name":"fit"},"transform":[{"filter":"datum.p=='h'"}],"mark":{"type":"line","color":"black","strokeWidth":1}},
  {"data":{"name":"lab"},"transform":[{"filter":"datum.p=='h' && datum.kind=='r2'"}],"mark":{"type":"text","align":"left","baseline":"middle","fontSize":11,"color":"black"},"encoding":{"text":{"field":"t"}}},
  {"data":{"name":"lab"},"transform":[{"filter":"datum.p=='h' && datum.kind=='tag'"}],"mark":{"type":"text","align":"left","baseline":"middle","fontSize":15,"color":"black","font":"Noto Sans CJK KR"},"encoding":{"text":{"field":"t"}}},
  {"data":{"name":"lab"},"transform":[{"filter":"datum.p=='h' && datum.kind=='sp'"}],"mark":{"type":"text","align":"center","baseline":"middle","fontSize":13,"fontStyle":"italic","color":"black"},"encoding":{"text":{"field":"t"}}}
 ]},
{"width":174,"height":176,
 "encoding":{"x":{"field":"x","type":"quantitative","scale":{"domain":[0,420],"nice":false,"zero":false},"axis":{"title":"(%fT>1)/MIC","values":[0,100,200,300,400]}},"y":{"field":"y","type":"quantitative","scale":{"domain":[-2,5],"nice":false,"zero":false},"axis":{"title":"Change in Log₁₀ cfu at 24h","values":[-2,-1,0,1,2,3,4,5],"labelExpr":"datum.value < 0 ? '-' + (-datum.value) : '' + datum.value"}}},
 "layer":[
  {"data":{"name":"pts"},"transform":[{"filter":"datum.p=='i'"}],"mark":{"type":"circle","size":40,"color":"black","opacity":1}},
  {"data":{"name":"fit"},"transform":[{"filter":"datum.p=='i'"}],"mark":{"type":"line","color":"black","strokeWidth":1}},
  {"data":{"name":"lab"},"transform":[{"filter":"datum.p=='i' && datum.kind=='r2'"}],"mark":{"type":"text","align":"left","baseline":"middle","fontSize":11,"color":"black"},"encoding":{"text":{"field":"t"}}},
  {"data":{"name":"lab"},"transform":[{"filter":"datum.p=='i' && datum.kind=='tag'"}],"mark":{"type":"text","align":"left","baseline":"middle","fontSize":15,"color":"black","font":"Noto Sans CJK KR"},"encoding":{"text":{"field":"t"}}},
  {"data":{"name":"lab"},"transform":[{"filter":"datum.p=='i' && datum.kind=='sp'"}],"mark":{"type":"text","align":"center","baseline":"middle","fontSize":13,"fontStyle":"italic","color":"black"},"encoding":{"text":{"field":"t"}}}
 ]}
]}
],
"spacing": 22
}
